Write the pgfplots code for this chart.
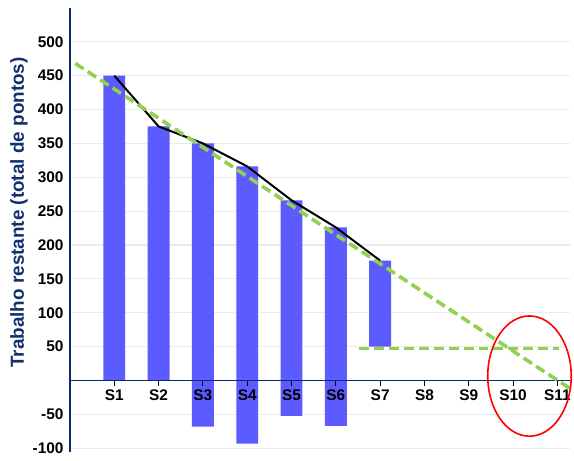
\documentclass[border=0pt]{standalone}
\usepackage{fontspec}
\setmainfont{Liberation Sans}
\usepackage{pgfplots}
\usepackage{pgfplotstable}
\pgfplotsset{compat=1.18}

\definecolor{barblue}{HTML}{5B5BFF}
\definecolor{axisnavy}{HTML}{0B2A6B}
\definecolor{labelnavy}{HTML}{13306E}
\definecolor{trendgreen}{HTML}{92D050}
\definecolor{gridgray}{HTML}{EBEBEB}

% sprint, bottom and top of each bar
\pgfplotstableread{
x lo  hi
1 0   450
2 0   375
3 -68 350
4 -93 316
5 -52 266
6 -67 226
7 50  177
}\sprints

% remaining work measured at the end of each sprint
\pgfplotstableread{
x y
1 450
2 375
3 350
4 316
5 266
6 226
7 177
}\burndown

\pgfplotsset{
  common/.style={
    anchor=origin, at={(0pt,0pt)},
    x=44.6pt, y=0.682pt,
    xmin=0, xmax=11.29, ymin=-105, ymax=550,
    clip=false,
  },
}

\begin{document}
\begin{tikzpicture}
% background: grid and bars
\begin{axis}[
  common,
  axis line style={draw=none},
  xtick=\empty,
  ytick={-100,-50,50,100,150,200,250,300,350,400,450,500},
  yticklabels={},
  major tick length=0pt,
  ymajorgrids,
  grid style={gridgray, line width=1.2pt},
  ybar stacked,
  stack negative=on previous,
  bar width=22pt,
]
  \addplot[draw=none, fill=none] table[x=x, y=lo] {\sprints};
  \addplot[fill=barblue, draw=none] table[x=x, y expr=\thisrow{hi}-\thisrow{lo}] {\sprints};
\end{axis}

% foreground: axes, labels, trend lines
\begin{axis}[
  common,
  axis y line=left,
  axis x line=middle,
  axis line style={-},
  x axis line style={axisnavy, line width=1.6pt},
  y axis line style={axisnavy, line width=2.4pt},
  xtick={0,...,11},
  xticklabels={,S1,S2,S3,S4,S5,S6,S7,S8,S9,S10,S11},
  ytick={-100,-50,50,100,150,200,250,300,350,400,450,500},
  yticklabels={-100,-50,50,100,150,200,250,300,350,400,450,500},
  tick align=outside,
  xtick style={black, line width=1pt},
  ytick style={draw=none},
  major tick length=5pt,
  tick label style={font=\fontsize{15.5}{17}\selectfont\bfseries, text=black},
  xticklabel style={yshift=-1pt},
  yticklabel style={xshift=2pt},
]
  \addplot[black, line width=2pt] table {\burndown};
  \addplot[trendgreen, line width=3.6pt, dash pattern=on 10pt off 5pt]
    coordinates {(0.12,468) (11.29,-12)};
  \addplot[trendgreen, line width=3.6pt, dash pattern=on 10pt off 5pt]
    coordinates {(6.53,47) (11.04,47)};
  \draw[red, line width=1.6pt] (axis cs:10.37,6.6) ellipse [x radius=42pt, y radius=60.5pt];
  \node[rotate=90, text=labelnavy, font=\fontsize{19}{21}\selectfont\bfseries]
    at (axis cs:-1.152,248) {Trabalho restante (total de pontos)};
\end{axis}
\path[use as bounding box] (-70.4pt,-80pt) rectangle (503.6pt,383pt);
\end{tikzpicture}
\end{document}
